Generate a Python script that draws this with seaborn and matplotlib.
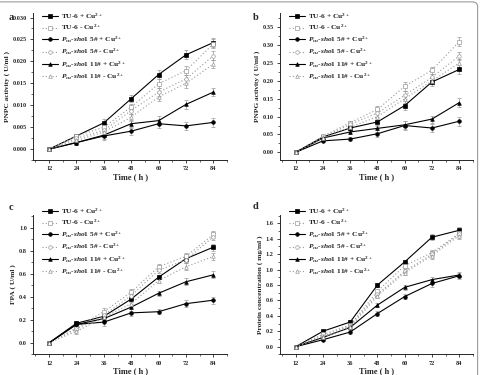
import matplotlib
matplotlib.use('Agg')
import matplotlib.pyplot as plt
from matplotlib.patches import FancyBboxPatch
from matplotlib.ticker import MultipleLocator
import numpy as np
import pandas as pd
import seaborn as sns

sns.set_style('ticks')
plt.rcParams['font.family'] = ['Liberation Serif', 'DejaVu Serif']
plt.rcParams['font.weight'] = 'bold'
plt.rcParams['mathtext.fontset'] = 'custom'
plt.rcParams['mathtext.rm'] = 'Liberation Serif:bold'
plt.rcParams['mathtext.it'] = 'Liberation Serif:italic:bold'
plt.rcParams['mathtext.bf'] = 'Liberation Serif:bold'

# zaman noktalari
time_h = [12, 24, 36, 48, 60, 72, 84]

labels = [r'TU-6 + Cu$^{2+}$',
          r'TU-6 - Cu$^{2+}$',
          r'$\mathit{P_{cu}}$-$\mathit{sho1}$ 5# + Cu$^{2+}$',
          r'$\mathit{P_{cu}}$-$\mathit{sho1}$ 5# - Cu$^{2+}$',
          r'$\mathit{P_{cu}}$-$\mathit{sho1}$ 11# + Cu$^{2+}$',
          r'$\mathit{P_{cu}}$-$\mathit{sho1}$ 11# - Cu$^{2+}$']

# a : PNPC activity
pnpc_tu6_plus = [0, 0.0030, 0.0060, 0.0115, 0.0170, 0.0215, 0.0243]
pnpc_tu6_minus = [0, 0.0030, 0.0050, 0.0096, 0.0149, 0.0179, 0.0240]
pnpc_5_plus = [0, 0.0015, 0.0030, 0.0041, 0.0058, 0.0053, 0.0061]
pnpc_5_minus = [0, 0.0025, 0.0043, 0.0088, 0.0130, 0.0160, 0.0213]
pnpc_11_plus = [0, 0.0015, 0.0032, 0.0058, 0.0065, 0.0102, 0.0130]
pnpc_11_minus = [0, 0.0020, 0.0039, 0.0073, 0.0119, 0.0150, 0.0194]
pnpc_err = [0, 0.0004, 0.0008, 0.0008, 0.0010, 0.0010, 0.0010]

# b : PNPG activity
pnpg_tu6_plus = [0, 0.043, 0.068, 0.085, 0.131, 0.197, 0.232]
pnpg_tu6_minus = [0, 0.045, 0.083, 0.120, 0.185, 0.230, 0.310]
pnpg_5_plus = [0, 0.032, 0.037, 0.052, 0.075, 0.068, 0.087]
pnpg_5_minus = [0, 0.043, 0.078, 0.110, 0.160, 0.210, 0.270]
pnpg_11_plus = [0, 0.040, 0.057, 0.067, 0.077, 0.093, 0.139]
pnpg_11_minus = [0, 0.040, 0.070, 0.100, 0.150, 0.200, 0.250]
pnpg_err = [0, 0.004, 0.006, 0.010, 0.012, 0.010, 0.012]

# c : FPA
fpa_tu6_plus = [0, 0.17, 0.23, 0.38, 0.57, 0.73, 0.83]
fpa_tu6_minus = [0, 0.13, 0.27, 0.44, 0.66, 0.75, 0.94]
fpa_5_plus = [0, 0.16, 0.18, 0.26, 0.27, 0.34, 0.37]
fpa_5_minus = [0, 0.12, 0.24, 0.41, 0.63, 0.72, 0.92]
fpa_11_plus = [0, 0.16, 0.21, 0.31, 0.43, 0.53, 0.59]
fpa_11_minus = [0, 0.10, 0.22, 0.34, 0.54, 0.66, 0.75]
fpa_err = [0, 0.02, 0.03, 0.03, 0.02, 0.03, 0.03]

# d : protein concentration
prot_tu6_plus = [0, 0.20, 0.32, 0.80, 1.10, 1.42, 1.51]
prot_tu6_minus = [0, 0.16, 0.28, 0.72, 1.05, 1.22, 1.47]
prot_5_plus = [0, 0.09, 0.19, 0.43, 0.65, 0.82, 0.92]
prot_5_minus = [0, 0.14, 0.27, 0.68, 0.98, 1.20, 1.46]
prot_11_plus = [0, 0.12, 0.25, 0.54, 0.77, 0.87, 0.93]
prot_11_minus = [0, 0.12, 0.25, 0.66, 0.96, 1.18, 1.44]
prot_err = [0, 0.02, 0.02, 0.03, 0.03, 0.04, 0.04]

panels = [
    ('a', 'PNPC activity ( U/ml )',
     [pnpc_tu6_plus, pnpc_tu6_minus, pnpc_5_plus, pnpc_5_minus, pnpc_11_plus, pnpc_11_minus],
     pnpc_err, (-0.0025, 0.031), 0.005, '%.3f'),
    ('b', 'PNPG activity ( U/ml )',
     [pnpg_tu6_plus, pnpg_tu6_minus, pnpg_5_plus, pnpg_5_minus, pnpg_11_plus, pnpg_11_minus],
     pnpg_err, (-0.022, 0.39), 0.05, '%.2f'),
    ('c', 'FPA ( U/ml )',
     [fpa_tu6_plus, fpa_tu6_minus, fpa_5_plus, fpa_5_minus, fpa_11_plus, fpa_11_minus],
     fpa_err, (-0.10, 1.11), 0.2, '%.1f'),
    ('d', 'Protein concentration ( mg/ml )',
     [prot_tu6_plus, prot_tu6_minus, prot_5_plus, prot_5_minus, prot_11_plus, prot_11_minus],
     prot_err, (-0.10, 1.71), 0.2, '%.1f'),
]

markers = ['s', 's', 'o', 'o', '^', '^']
positions = [[0.069, 0.573, 0.404, 0.392], [0.583, 0.573, 0.402, 0.392],
             [0.069, 0.055, 0.404, 0.372], [0.583, 0.055, 0.402, 0.372]]
letter_pos = [(0.018, 0.965), (0.527, 0.965), (0.018, 0.458), (0.527, 0.462)]
legend_y = [1.03, 1.03, 1.08, 1.08]

fig = plt.figure(figsize=(4.8, 3.75), dpi=100)

for (letter, ylabel, series, err, ylim, step, fmt), pos, lp, ly in zip(
        panels, positions, letter_pos, legend_y):
    ax = fig.add_axes(pos)
    for i, y in enumerate(series):
        minus = i % 2 == 1
        col = '#9a9a9a' if minus else 'black'
        df = pd.DataFrame({'t': time_h, 'v': y})
        ax.errorbar(time_h, y, yerr=err, fmt='none', ecolor='#999999',
                    elinewidth=0.5, capsize=1.2, capthick=0.5, zorder=1)
        sns.lineplot(data=df, x='t', y='v', ax=ax, color=col, lw=0.8,
                     linestyle=(0, (1, 2)) if minus else '-',
                     marker=markers[i], markersize=2.6,
                     markerfacecolor='white' if minus else 'black',
                     markeredgecolor=col, markeredgewidth=0.5,
                     label=labels[i], zorder=2)
    ax.set_xlim(5, 90)
    ax.set_ylim(*ylim)
    ax.set_xticks(time_h)
    ax.xaxis.set_minor_locator(MultipleLocator(6))
    ax.yaxis.set_major_locator(MultipleLocator(step))
    ax.yaxis.set_minor_locator(MultipleLocator(step / 2))
    ax.yaxis.set_major_formatter(matplotlib.ticker.FormatStrFormatter(fmt))
    ax.tick_params(which='major', length=2.5, width=0.6, labelsize=4.5, pad=2)
    ax.tick_params(which='minor', length=1.5, width=0.5)
    sns.despine(ax=ax)
    for s in ['left', 'bottom']:
        ax.spines[s].set_linewidth(0.7)
    ax.set_xlabel('Time ( h )', fontsize=6, fontweight='bold', labelpad=1)
    ax.set_ylabel(ylabel, fontsize=5.3, fontweight='bold', labelpad=2)
    ax.legend(loc='upper left', bbox_to_anchor=(0.03, ly), frameon=False,
              fontsize=5.3, handlelength=2.2, labelspacing=0.3, borderaxespad=0,
              handletextpad=0.4)
    fig.text(lp[0], lp[1], letter, fontsize=7.5, fontweight='bold', va='top')

# gri cerceve
frame = FancyBboxPatch((-0.05, -0.05), 1.045, 1.045, transform=fig.transFigure,
                       boxstyle='round,pad=0,rounding_size=0.012', fc='none',
                       ec='#9a9a9a', lw=0.8)
fig.patches.append(frame)

fig.savefig('out.png', dpi=100)
